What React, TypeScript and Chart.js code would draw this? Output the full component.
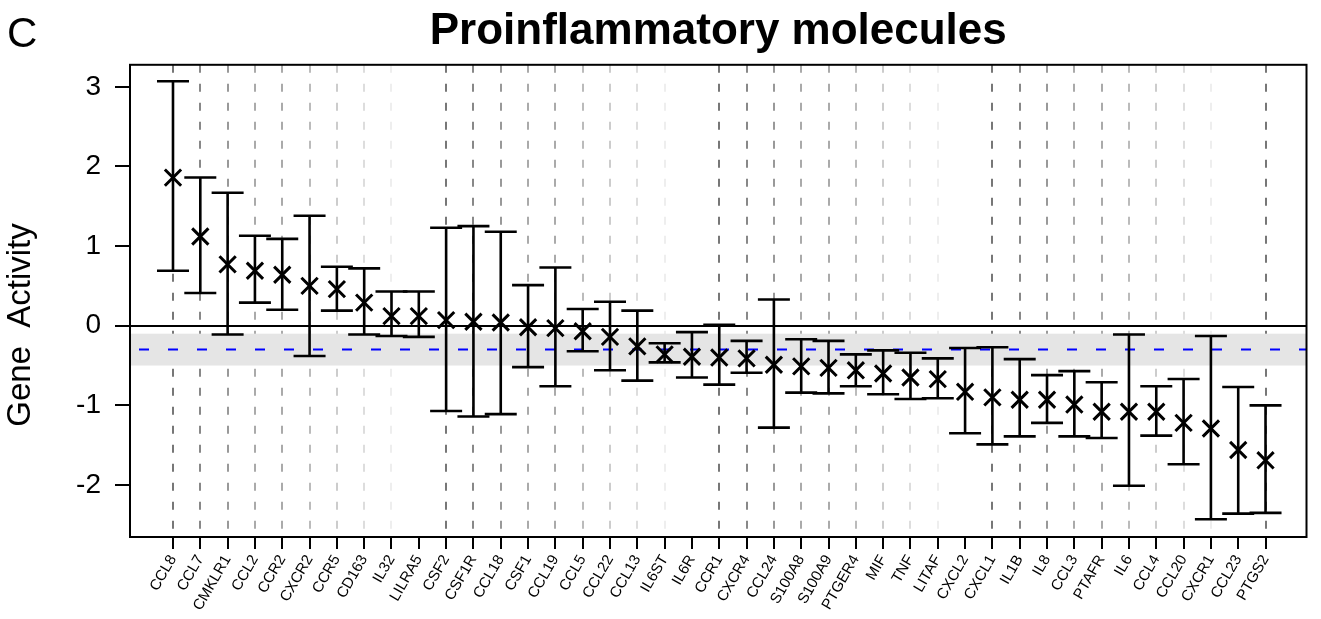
import { useEffect, useRef } from "react";
import { Chart, registerables } from "chart.js";

Chart.register(...registerables);

const categories = [
  "CCL8", "CCL7", "CMKLR1", "CCL2", "CCR2", "CXCR2", "CCR5", "CD163", "IL32", "LILRA5",
  "CSF2", "CSF1R", "CCL18", "CSF1", "CCL19", "CCL5", "CCL22", "CCL13", "IL6ST", "IL6R",
  "CCR1", "CXCR4", "CCL24", "S100A8", "S100A9", "PTGER4", "MIF", "TNF", "LITAF", "CXCL2",
  "CXCL1", "IL1B", "IL8", "CCL3", "PTAFR", "IL6", "CCL4", "CCL20", "CXCR1", "CCL23", "PTGS2",
];

const means = [
  1.86, 1.12, 0.77, 0.69, 0.64, 0.5, 0.46, 0.29, 0.12, 0.12,
  0.07, 0.05, 0.04, -0.02, -0.03, -0.07, -0.14, -0.26, -0.36, -0.39,
  -0.4, -0.41, -0.49, -0.51, -0.53, -0.56, -0.6, -0.65, -0.67, -0.83,
  -0.9, -0.93, -0.93, -0.99, -1.08, -1.08, -1.08, -1.22, -1.29, -1.56, -1.69,
];

const upper = [
  3.07, 1.86, 1.67, 1.13, 1.09, 1.38, 0.74, 0.72, 0.43, 0.43,
  1.23, 1.25, 1.18, 0.51, 0.73, 0.21, 0.3, 0.19, -0.22, -0.08,
  0.01, -0.19, 0.33, -0.17, -0.19, -0.36, -0.31, -0.34, -0.41, -0.28,
  -0.27, -0.42, -0.62, -0.57, -0.71, -0.11, -0.76, -0.67, -0.13, -0.77, -1.0,
];

const lower = [
  0.69, 0.41, -0.11, 0.29, 0.2, -0.38, 0.19, -0.11, -0.13, -0.14,
  -1.07, -1.14, -1.11, -0.52, -0.76, -0.32, -0.56, -0.69, -0.46, -0.65,
  -0.74, -0.59, -1.28, -0.84, -0.85, -0.76, -0.86, -0.92, -0.91, -1.35,
  -1.49, -1.39, -1.22, -1.39, -1.41, -2.01, -1.38, -1.74, -2.43, -2.36, -2.35,
];

const yTickValues = [-2, -1, 0, 1, 2, 3];
const bandLow = -0.5;
const bandHigh = -0.1;
const refLine = -0.3;
const yAxisTitle = "Gene  Activity";
const panelLetter = "C";

const FONT = '"Liberation Sans", Arial, Helvetica, sans-serif';
const gridShades = ["#777", "#888", "#999", "#aaa", "#aaa", "#bbb", "#ccc", "#ddd", "#eee", "rgba(0,0,0,0)"];

const decor = {
  id: "decor",
  beforeDatasetsDraw(chart: any) {
    const { ctx, chartArea: a, scales } = chart;
    const x = scales.x;
    const y = scales.y;
    ctx.save();
    const yb1 = y.getPixelForValue(bandHigh);
    const yb2 = y.getPixelForValue(bandLow);
    ctx.fillStyle = "#e5e5e5";
    ctx.fillRect(a.left, yb1, a.right - a.left, yb2 - yb1);

    const yr = y.getPixelForValue(refLine);
    ctx.strokeStyle = "#0000ff";
    ctx.lineWidth = 2;
    ctx.setLineDash([10, 19]);
    ctx.beginPath();
    ctx.moveTo(a.left + 9, yr);
    ctx.lineTo(a.right, yr);
    ctx.stroke();
    ctx.setLineDash([]);

    ctx.strokeStyle = "#000";
    ctx.lineWidth = 2.6;
    for (let i = 0; i < categories.length; i++) {
      const px = x.getPixelForValue(i);
      const yu = y.getPixelForValue(upper[i]);
      const yl = y.getPixelForValue(lower[i]);
      ctx.beginPath();
      ctx.moveTo(px, yu);
      ctx.lineTo(px, yl);
      ctx.moveTo(px - 16, yu);
      ctx.lineTo(px + 16, yu);
      ctx.moveTo(px - 16, yl);
      ctx.lineTo(px + 16, yl);
      ctx.stroke();
    }
    ctx.restore();
  },
  afterDraw(chart: any) {
    const { ctx, chartArea: a } = chart;
    ctx.save();
    ctx.strokeStyle = "#000";
    ctx.lineWidth = 2;
    ctx.strokeRect(a.left, a.top, a.right - a.left, a.bottom - a.top);
    ctx.fillStyle = "#000";
    ctx.font = `42px ${FONT}`;
    ctx.textAlign = "left";
    ctx.textBaseline = "alphabetic";
    ctx.fillText(panelLetter, 7, 47);

    ctx.translate(21, 325);
    ctx.rotate(-Math.PI / 2);
    ctx.font = `33px ${FONT}`;
    ctx.textAlign = "center";
    ctx.textBaseline = "middle";
    ctx.fillText(yAxisTitle, 0, 0);
    ctx.restore();
  },
};

export default function App() {
  const canvasRef = useRef<HTMLCanvasElement | null>(null);

  useEffect(() => {
    if (!canvasRef.current) return;
    const chart = new Chart(canvasRef.current, {
      type: "scatter",
      data: {
        datasets: [
          {
            data: categories.map((_, i) => ({ x: i, y: means[i] })),
            pointStyle: "crossRot",
            pointRadius: 11.5,
            pointHoverRadius: 11.5,
            borderColor: "#000",
            backgroundColor: "#000",
            borderWidth: 3,
            pointBorderWidth: 3,
            showLine: false,
          },
        ],
      },
      options: {
        animation: false,
        responsive: false,
        layout: { padding: { left: 0, right: 14, top: 0, bottom: 0 } },
        plugins: {
          legend: { display: false },
          tooltip: { enabled: false },
          title: {
            display: true,
            text: "Proinflammatory molecules",
            color: "#000",
            fullSize: false,
            font: { size: 44, weight: "bold", family: FONT },
            padding: { top: 5, bottom: 7 },
          },
        },
        scales: {
          x: {
            type: "linear",
            min: -1.574,
            max: 41.5,
            afterBuildTicks: (scale: any) => {
              scale.ticks = categories.map((_, i) => ({ value: i }));
            },
            afterFit: (scale: any) => {
              scale.height = 82;
            },
            ticks: {
              autoSkip: false,
              maxRotation: 60,
              minRotation: 60,
              padding: 3,
              color: "#000",
              font: { size: 15, family: FONT },
              callback: (v: any) => categories[v as number] ?? "",
            },
            grid: {
              color: (c: any) => gridShades[c.index % 10],
              lineWidth: 2,
              tickColor: "#000",
              tickLength: 12,
              tickWidth: 2,
              tickBorderDash: [],
              drawOnChartArea: true,
              drawTicks: true,
            },
            border: { display: false, dash: [8, 11] },
          },
          y: {
            type: "linear",
            min: -2.653,
            max: 3.276,
            afterBuildTicks: (scale: any) => {
              scale.ticks = yTickValues.map((v) => ({ value: v }));
            },
            afterFit: (scale: any) => {
              scale.width = 130;
            },
            ticks: {
              padding: 14,
              color: "#000",
              font: { size: 28, family: FONT },
              callback: (v: any) => String(v),
            },
            grid: {
              color: (c: any) => (c.tick && c.tick.value === 0 ? "#000" : "rgba(0,0,0,0)"),
              lineWidth: 2,
              tickColor: "#000",
              tickLength: 15,
              tickWidth: 2,
            },
            border: { display: false },
          },
        },
      },
      plugins: [decor],
    } as any);
    return () => chart.destroy();
  }, []);

  return (
    <div style={{ position: "absolute", left: 0, top: 0, width: 1321, height: 619, background: "#fff" }}>
      <canvas ref={canvasRef} width={1321} height={619} style={{ display: "block" }} />
    </div>
  );
}
